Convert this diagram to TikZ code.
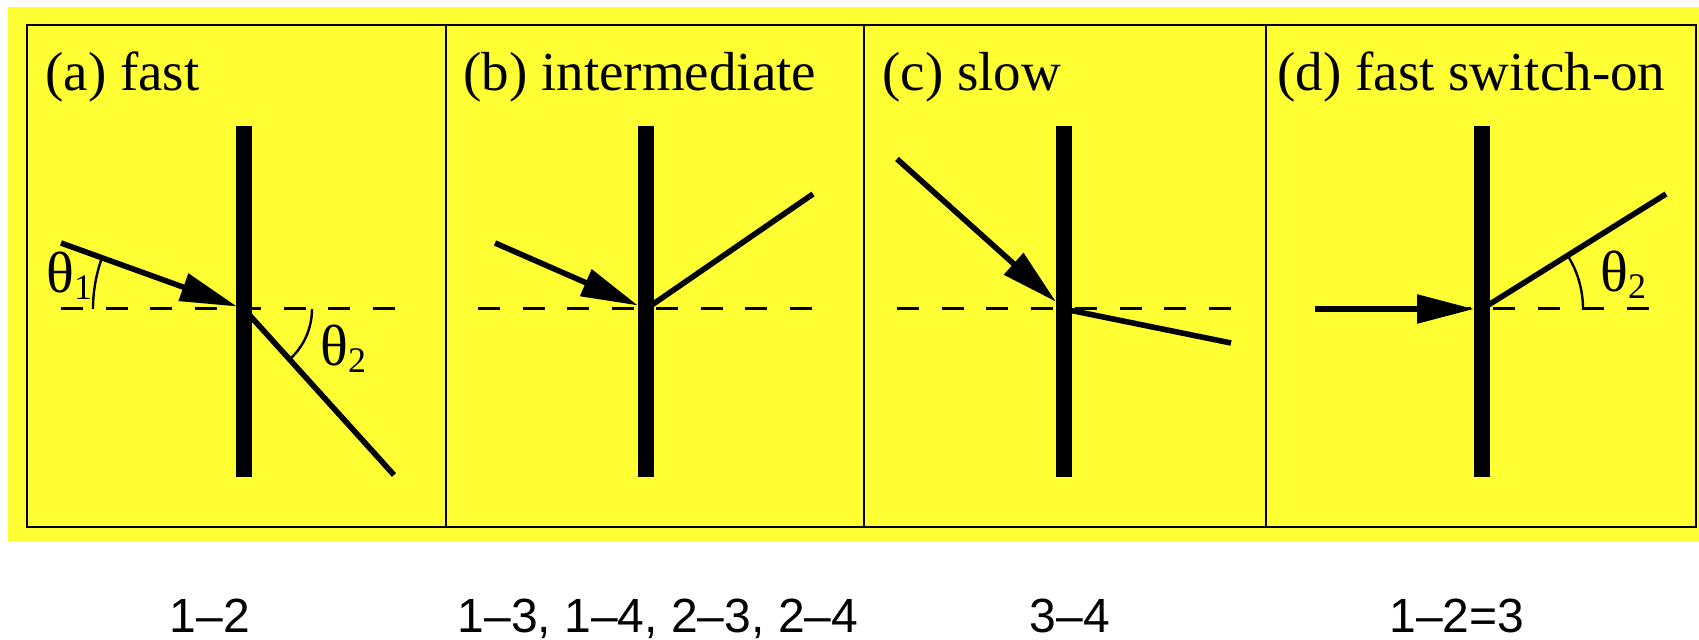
\documentclass[tikz,border=0pt]{standalone}
\usepackage{fontspec}
\setmainfont{Liberation Serif}
\newfontfamily\sansf{Liberation Sans}
\usetikzlibrary{arrows.meta}
\definecolor{bgyellow}{RGB}{255,255,51}
\begin{document}
\begin{tikzpicture}[x=0.5pt,y=-0.5pt,
  panel/.style={draw=black,line width=1.4pt},
  ray/.style={line width=2.8pt},
  inray/.style={ray,-{Triangle[length=28.5pt,width=14pt]}},
  barline/.style={line width=8pt},
  normalline/.style={dash pattern=on 11pt off 11.25pt,line width=1.5pt},
  anglearc/.style={line width=1.2pt},
  title/.style={anchor=base west,inner sep=0,font=\fontsize{27.5}{30}\selectfont},
  thetalbl/.style={anchor=base west,inner sep=0,font=\fontsize{29}{31}\selectfont},
  pairs/.style={anchor=base,inner sep=0,font=\sansf\fontsize{24}{28}\selectfont}]
\useasboundingbox (0,0) rectangle (1699,640);
\fill[bgyellow] (8,7) rectangle (1699,541);
% panels
\draw[panel] (27,25) rectangle (1696,527);
\draw[panel] (446,25) -- (446,527);
\draw[panel] (864,25) -- (864,527);
\draw[panel] (1266,25) -- (1266,527);
% titles
\node[title] (ta) at (45,91) {(a) fast};
\node[title] (tb) at (463,91) {(b) intermediate};
\node[title] (tc) at (882,91) {(c) slow};
\node[title] (td) at (1277,91) {(d) fast switch-on};
% intersection points
\coordinate (Oa) at (244,309);
\coordinate (Ob) at (646,309);
\coordinate (Oc) at (1064,309);
\coordinate (Od) at (1482,309);
% normals (dashed)
\draw[normalline] (61,309) -- (395,309);
\draw[normalline] (478,309) -- (813,309);
\draw[normalline] (897,309) -- (1232,309);
\draw[normalline] (1315,309) -- (1649,309);
% (a)
\coordinate (Sa) at (61,243);
\coordinate (Ta) at (237,306.5);
\coordinate (Ea) at (394,475);
\draw[inray] (Sa) -- (Ta);
\draw[ray] (Oa) -- (Ea);
\draw[anglearc] (Oa) ++(180:151) arc[start angle=180,end angle=199.8,radius=151];
\draw[anglearc] (Oa) ++(0:68) arc[start angle=0,end angle=47.9,radius=68];
\node[thetalbl] (th1) at (46,293) {θ\raisebox{-3.5pt}{\fontsize{18}{18}\selectfont 1}};
\node[thetalbl] (th2a) at (320,366) {θ\raisebox{-3.5pt}{\fontsize{18}{18}\selectfont 2}};
% (b)
\coordinate (Sb) at (495,243);
\coordinate (Tb) at (638,305.5);
\coordinate (Eb) at (813,194);
\draw[inray] (Sb) -- (Tb);
\draw[ray] (Ob) -- (Eb);
% (c)
\coordinate (Sc) at (897,159);
\coordinate (Tc) at (1056,301.8);
\coordinate (Ec) at (1231,343);
\draw[inray] (Sc) -- (Tc);
\draw[ray] (Oc) -- (Ec);
% (d)
\coordinate (Sd) at (1315,309);
\coordinate (Td) at (1474,309);
\coordinate (Ed) at (1666,194);
\draw[inray] (Sd) -- (Td);
\draw[ray] (Od) -- (Ed);
\draw[anglearc] (Od) ++(0:101) arc[start angle=0,end angle=-32.2,radius=101];
\node[thetalbl] (th2d) at (1600,292) {θ\raisebox{-3.5pt}{\fontsize{18}{18}\selectfont 2}};
% bars
\draw[barline] (244,126) -- (244,477);
\draw[barline] (646,126) -- (646,477);
\draw[barline] (1064,126) -- (1064,477);
\draw[barline] (1482,126) -- (1482,477);
% transition labels
\node[pairs] (pa) at (210,633) {1–2};
\node[pairs] (pb) at (658,633) {1–3, 1–4, 2–3, 2–4};
\node[pairs] (pc) at (1070,633) {3–4};
\node[pairs] (pd) at (1457,633) {1–2=3};
\end{tikzpicture}
\end{document}
